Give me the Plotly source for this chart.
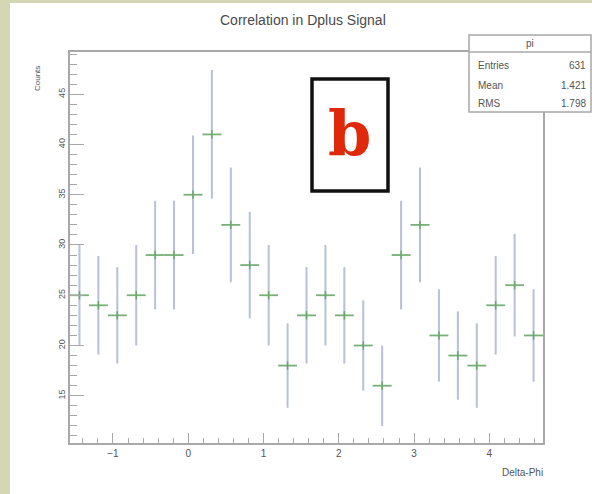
import plotly.graph_objects as go

# ---- data ----
bin_centers = [-1.4451, -1.1938, -0.9425, -0.6912, -0.4398, -0.1885, 0.0628, 0.3142,
               0.5655, 0.8168, 1.0681, 1.3195, 1.5708, 1.8221, 2.0735, 2.3248,
               2.5761, 2.8274, 3.0788, 3.3301, 3.5814, 3.8327, 4.0841, 4.3354, 4.5867]
counts = [25, 24, 23, 25, 29, 29, 35, 41, 32, 28, 25, 18, 23, 25, 23, 20,
          16, 29, 32, 21, 19, 18, 24, 26, 21]
count_errors = [5.0, 4.9, 4.8, 5.0, 5.4, 5.4, 5.9, 6.4, 5.7, 5.3, 5.0, 4.2, 4.8,
                5.0, 4.8, 4.5, 4.0, 5.4, 5.7, 4.6, 4.4, 4.2, 4.9, 5.1, 4.6]
half_bin_width = 0.1257
title_text = "Correlation in Dplus Signal"
x_title = "Delta-Phi"
y_title = "Counts"
stats_name = "pi"
stats_labels = ["Entries", "Mean", "RMS"]
stats_values = ["631", "1.421", "1.798"]
y_tick_vals = [15, 20, 25, 30, 35, 40, 45]
x_tick_vals = [-1, 0, 1, 2, 3, 4]

W, H = 592, 494
L, R, T, B = 70, 49, 52, 51
PW, PH = W - L - R, H - T - B


def px(x):
    return (x - L) / PW


def py(y):
    return (H - B - y) / PH


NARROW = "Liberation Sans Narrow, Arial Narrow, Liberation Sans, Arial"
GRAY = "#a8a8a8"
TXT = "#555555"

fig = go.Figure()
fig.add_trace(go.Scatter(
    x=bin_centers, y=counts, mode="markers",
    marker=dict(symbol="line-ns", size=6, color="#6aa86a",
                line=dict(color="#6aa86a", width=1.5)),
    error_y=dict(type="data", array=count_errors, visible=True,
                 color="#b8c0da", thickness=2, width=0),
    error_x=dict(type="constant", value=half_bin_width, visible=True,
                 color="#78b078", thickness=1.8, width=0),
    showlegend=False, hoverinfo="x+y",
))

shapes = [
    # beige background strips
    dict(type="rect", xref="paper", yref="paper", x0=px(0), x1=px(W), y0=py(0), y1=py(H),
         fillcolor="#d5d6b3", line=dict(width=0), layer="below"),
    dict(type="rect", xref="paper", yref="paper", x0=px(10), x1=px(W), y0=py(3), y1=py(H),
         fillcolor="white", line=dict(width=0), layer="below"),
    # stats box
    dict(type="rect", xref="paper", yref="paper", x0=px(469), x1=px(591), y0=py(35), y1=py(112),
         fillcolor="white", line=dict(color=GRAY, width=1.5), layer="above"),
    dict(type="line", xref="paper", yref="paper", x0=px(469), x1=px(591), y0=py(52), y1=py(52),
         line=dict(color=GRAY, width=1.5), layer="above"),
    # "b" box
    dict(type="rect", xref="paper", yref="paper", x0=px(312), x1=px(388), y0=py(79), y1=py(191),
         fillcolor="white", line=dict(color="#111111", width=3.5), layer="above"),
]


def note(text, x, y, size, xanchor="center", family=NARROW, color=TXT, angle=0):
    return dict(text=text, x=px(x), y=py(y), xref="paper", yref="paper",
                xanchor=xanchor, yanchor="middle", textangle=angle, showarrow=False,
                font=dict(family=family, size=size, color=color))


ann = [
    note(title_text, 303, 20, 14, color="#4a4a4a"),
    note(y_title, 38, 79, 8, angle=-90),
    note(x_title, 545, 472, 10, xanchor="right"),
    note(stats_name, 530, 43.5, 10),
    note("<b>b</b>", 349, 134, 62, family="DejaVu Serif, Liberation Serif, serif",
         color="#e0280a"),
]
row_y = [65, 85, 104]
for lab, val, yy in zip(stats_labels, stats_values, row_y):
    ann.append(note(lab, 476, yy, 10, xanchor="left"))
    ann.append(note(val, 588, yy, 10, xanchor="right"))

fig.update_layout(
    width=W, height=H,
    margin=dict(l=L, r=R, t=T, b=B, pad=0),
    paper_bgcolor="white", plot_bgcolor="white",
    shapes=shapes, annotations=ann,
    xaxis=dict(range=[-1.5708, 4.7124], tickvals=x_tick_vals, ticks="inside", ticklen=10,
               tickcolor=GRAY, tickwidth=1.2, showline=True, linecolor=GRAY, linewidth=1.5,
               mirror=True, showgrid=False, zeroline=False,
               minor=dict(tick0=0, dtick=0.2, ticks="inside", ticklen=5, tickcolor=GRAY,
                          tickwidth=1.2, showgrid=False),
               tickfont=dict(family=NARROW, size=10, color=TXT)),
    yaxis=dict(range=[10.3, 49.2], tickvals=y_tick_vals, ticks="inside", ticklen=14,
               tickcolor=GRAY, tickwidth=1.2, showline=True, linecolor=GRAY, linewidth=1.5,
               mirror=True, showgrid=False, zeroline=False, tickangle=-90,
               minor=dict(tick0=0, dtick=1, ticks="inside", ticklen=7, tickcolor=GRAY,
                          tickwidth=1.2, showgrid=False),
               tickfont=dict(family=NARROW, size=9, color=TXT)),
)

fig.write_html("out.html")
